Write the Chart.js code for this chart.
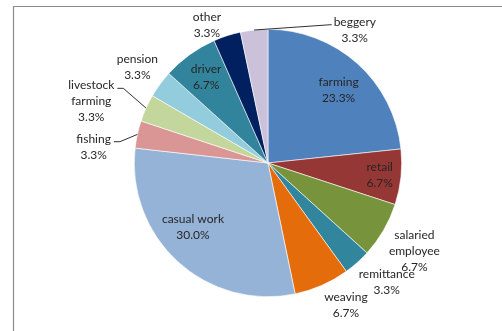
<!DOCTYPE html>
<html>
<head>
<meta charset="utf-8">
<script src="https://cdn.jsdelivr.net/npm/chart.js@4"></script>
<style>
    html, body { margin: 0; padding: 0; background: #fff; }
    #wrap { width: 502px; height: 331px; }
</style>
</head>
<body>
<div id="wrap"><canvas id="pieChart" width="502" height="331"></canvas></div>
<script>
// income sources, share of households (%)
const categories = ["farming", "retail", "salaried employee", "remittance", "weaving",
    "casual work", "fishing", "livestock farming", "pension", "driver", "other", "beggery"];
const shares = [23.3, 6.7, 6.7, 3.3, 6.7, 30.0, 3.3, 3.3, 3.3, 6.7, 3.3, 3.3];

const sliceColors = ["#4f81bd", "#953735", "#77933c", "#31859c", "#e46c0a", "#95b3d7",
    "#d99694", "#c3d69b", "#93cddd", "#31849b", "#002060", "#ccc1da"];

// label placement: radius as a fraction of the pie radius, angle nudge in degrees,
// text lines, and whether a leader line joins it to the slice
const labelPlace = [
    { r: 0.76, shift: 2,   lines: ["farming"] },
    { r: 0.84, shift: 0,   lines: ["retail"] },
    { r: 1.28, shift: 1,   lines: ["salaried", "employee"] },
    { r: 1.26, shift: -3,  lines: ["remittance"] },
    { r: 1.21, shift: -5,  lines: ["weaving"] },
    { r: 0.74, shift: 7,   lines: ["casual work"] },
    { r: 1.31, shift: -7,  lines: ["fishing"], leader: "right" },
    { r: 1.40, shift: -5,  lines: ["livestock", "farming"], leader: "right" },
    { r: 1.21, shift: 0,   lines: ["pension"] },
    { r: 0.79, shift: 0,   lines: ["driver"] },
    { r: 1.13, shift: -6,  lines: ["other"] },
    { r: 1.19, shift: 39,  lines: ["beggery"], leader: "left" }
];

const FONT = "12px Lato";
const LINE_H = 16;

const framePlugin = {
    id: "frame",
    beforeDraw(chart) {
        const ctx = chart.ctx;
        ctx.save();
        ctx.strokeStyle = "#8c8c8c";
        ctx.lineWidth = 1.2;
        ctx.beginPath();
        ctx.moveTo(13.5, 331);
        ctx.lineTo(13.5, 6.5);
        ctx.lineTo(502, 6.5);
        ctx.stroke();
        ctx.restore();
    }
};

const labelPlugin = {
    id: "sliceLabels",
    afterDatasetsDraw(chart) {
        const ctx = chart.ctx;
        const meta = chart.getDatasetMeta(0);
        ctx.save();
        ctx.font = FONT;
        ctx.fillStyle = "#262626";
        ctx.textAlign = "center";
        ctx.textBaseline = "middle";

        meta.data.forEach((arc, i) => {
            const p = labelPlace[i];
            const mid = (arc.startAngle + arc.endAngle) / 2;
            const a = mid + p.shift * Math.PI / 180;
            const cx = arc.x + Math.cos(a) * arc.outerRadius * p.r;
            const cy = arc.y + Math.sin(a) * arc.outerRadius * p.r;

            const lines = p.lines.concat([shares[i].toFixed(1) + "%"]);
            const top = cy - (lines.length - 1) * LINE_H / 2;
            lines.forEach((t, k) => ctx.fillText(t, cx, top + k * LINE_H));

            if (p.leader) {
                // edge of the slice at its middle angle
                const ex = arc.x + Math.cos(mid) * arc.outerRadius;
                const ey = arc.y + Math.sin(mid) * arc.outerRadius;
                const w = ctx.measureText(p.lines[0]).width;
                const ly = top + 3;
                ctx.strokeStyle = "#1a1a1a";
                ctx.lineWidth = 0.9;
                ctx.beginPath();
                if (p.leader === "right") {
                    const sx = cx + w / 2 + 3;
                    ctx.moveTo(sx, ly);
                    ctx.lineTo(sx + 6, ly);
                } else {
                    const sx = cx - w / 2 - 2;
                    ctx.moveTo(sx, ly);
                }
                ctx.lineTo(ex, ey);
                ctx.stroke();
            }
        });
        ctx.restore();
    }
};

new Chart(document.getElementById("pieChart"), {
    type: "pie",
    data: {
        labels: categories,
        datasets: [{
            data: shares,
            backgroundColor: sliceColors,
            borderColor: "#ffffff",
            borderWidth: 0.6
        }]
    },
    options: {
        responsive: false,
        animation: false,
        layout: {
            padding: { left: 134, right: 100, top: 29, bottom: 34 }
        },
        plugins: {
            legend: { display: false },
            tooltip: { enabled: false }
        }
    },
    plugins: [framePlugin, labelPlugin]
});
</script>
</body>
</html>
